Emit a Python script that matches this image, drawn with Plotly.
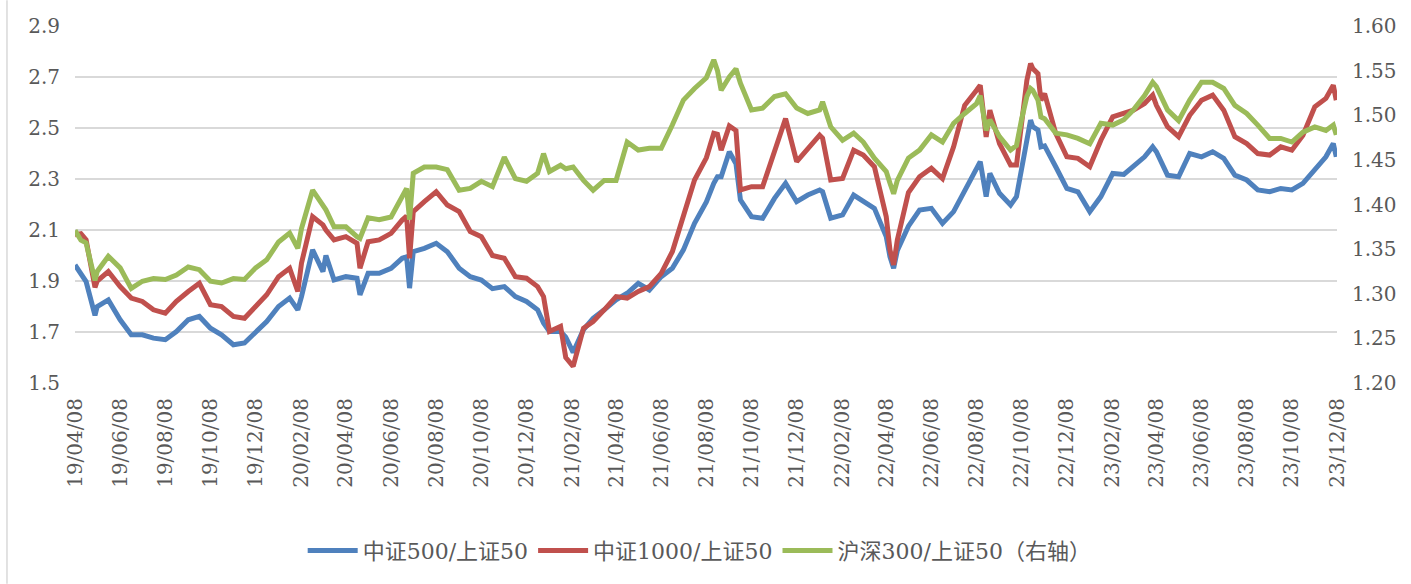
import plotly.graph_objects as go

dates = [
    "2019-04-08", "2019-04-16", "2019-04-23", "2019-05-05", "2019-05-08", "2019-05-23",
    "2019-06-08", "2019-06-23", "2019-07-08", "2019-07-23", "2019-08-08", "2019-08-23",
    "2019-09-08", "2019-09-23", "2019-10-08", "2019-10-23", "2019-11-08", "2019-11-23",
    "2019-12-08", "2019-12-23", "2020-01-08", "2020-01-23", "2020-02-03", "2020-02-08",
    "2020-02-23", "2020-03-08", "2020-03-12", "2020-03-23", "2020-04-08", "2020-04-23",
    "2020-04-27", "2020-05-08", "2020-05-23", "2020-06-08", "2020-06-23", "2020-06-29",
    "2020-07-03", "2020-07-08", "2020-07-23", "2020-08-08", "2020-08-23", "2020-09-08",
    "2020-09-23", "2020-10-08", "2020-10-23", "2020-11-08", "2020-11-23", "2020-12-08",
    "2020-12-23", "2020-12-31", "2021-01-08", "2021-01-23", "2021-01-30", "2021-02-09",
    "2021-02-23", "2021-03-08", "2021-03-23", "2021-04-08", "2021-04-23", "2021-05-08",
    "2021-05-23", "2021-06-08", "2021-06-23", "2021-07-08", "2021-07-23", "2021-08-08",
    "2021-08-18", "2021-08-23", "2021-08-28", "2021-09-08", "2021-09-17", "2021-09-23",
    "2021-10-08", "2021-10-23", "2021-11-08", "2021-11-23", "2021-12-08", "2021-12-23",
    "2022-01-08", "2022-01-12", "2022-01-23", "2022-02-08", "2022-02-23", "2022-03-08",
    "2022-03-23", "2022-04-08", "2022-04-13", "2022-04-18", "2022-04-23", "2022-05-08",
    "2022-05-23", "2022-06-08", "2022-06-23", "2022-07-08", "2022-07-23", "2022-08-08",
    "2022-08-13", "2022-08-21", "2022-08-26", "2022-09-08", "2022-09-23", "2022-10-01",
    "2022-10-08", "2022-10-15", "2022-10-20", "2022-10-23", "2022-10-30", "2022-11-03",
    "2022-11-08", "2022-11-23", "2022-12-08", "2022-12-23", "2023-01-08", "2023-01-23",
    "2023-02-08", "2023-02-23", "2023-03-08", "2023-03-23", "2023-04-03", "2023-04-08",
    "2023-04-23", "2023-05-08", "2023-05-23", "2023-06-08", "2023-06-23", "2023-07-08",
    "2023-07-23", "2023-08-08", "2023-08-23", "2023-09-08", "2023-09-23", "2023-10-08",
    "2023-10-23", "2023-11-08", "2023-11-23", "2023-12-03", "2023-12-07",
]

csi500_sse50 = [
    1.963, 1.925, 1.898, 1.765, 1.800, 1.826,
    1.748, 1.689, 1.689, 1.676, 1.670, 1.702,
    1.748, 1.761, 1.715, 1.689, 1.650, 1.657,
    1.702, 1.741, 1.800, 1.833, 1.787, 1.839,
    2.022, 1.937, 2.000, 1.904, 1.917, 1.911,
    1.846, 1.930, 1.930, 1.950, 1.989, 1.995,
    1.872, 2.015, 2.028, 2.048, 2.015, 1.950,
    1.917, 1.904, 1.870, 1.878, 1.839, 1.820,
    1.787, 1.735, 1.702, 1.702, 1.680, 1.620,
    1.709, 1.754, 1.787, 1.826, 1.852, 1.891,
    1.865, 1.917, 1.950, 2.022, 2.126, 2.210,
    2.283, 2.309, 2.309, 2.407, 2.360, 2.218,
    2.152, 2.146, 2.224, 2.283, 2.211, 2.237,
    2.257, 2.250, 2.146, 2.159, 2.237, 2.211,
    2.185, 2.074, 1.996, 1.950, 2.020, 2.115,
    2.178, 2.185, 2.126, 2.172, 2.257, 2.342,
    2.368, 2.231, 2.322, 2.244, 2.198, 2.231,
    2.348, 2.452, 2.531, 2.505, 2.492, 2.426,
    2.430, 2.348, 2.263, 2.250, 2.172, 2.231,
    2.322, 2.318, 2.348, 2.387, 2.426, 2.407,
    2.315, 2.309, 2.400, 2.387, 2.407, 2.381,
    2.315, 2.296, 2.257, 2.250, 2.263, 2.257,
    2.283, 2.335, 2.387, 2.439, 2.387,
]

csi1000_sse50 = [
    2.081, 2.085, 2.061, 1.875, 1.900, 1.937,
    1.878, 1.833, 1.820, 1.787, 1.774, 1.820,
    1.859, 1.891, 1.807, 1.800, 1.761, 1.754,
    1.800, 1.846, 1.917, 1.950, 1.859, 1.970,
    2.152, 2.120, 2.100, 2.061, 2.074, 2.048,
    1.950, 2.054, 2.061, 2.087, 2.139, 2.155,
    1.989, 2.172, 2.211, 2.250, 2.198, 2.172,
    2.094, 2.074, 2.000, 1.989, 1.917, 1.911,
    1.878, 1.839, 1.702, 1.722, 1.600, 1.565,
    1.715, 1.741, 1.787, 1.839, 1.833, 1.859,
    1.878, 1.930, 2.015, 2.152, 2.296, 2.383,
    2.479, 2.475, 2.413, 2.508, 2.490, 2.257,
    2.270, 2.270, 2.413, 2.537, 2.368, 2.420,
    2.472, 2.460, 2.296, 2.302, 2.413, 2.394,
    2.348, 2.152, 2.022, 1.963, 2.061, 2.247,
    2.309, 2.342, 2.302, 2.426, 2.589, 2.648,
    2.668, 2.465, 2.570, 2.439, 2.355, 2.355,
    2.531, 2.687, 2.753, 2.733, 2.713, 2.609,
    2.635, 2.479, 2.387, 2.381, 2.348, 2.452,
    2.544, 2.560, 2.570, 2.596, 2.629, 2.589,
    2.505, 2.466, 2.550, 2.609, 2.629, 2.570,
    2.466, 2.439, 2.400, 2.394, 2.426, 2.413,
    2.472, 2.583, 2.616, 2.668, 2.609,
]

hs300_sse50 = [
    1.371, 1.360, 1.357, 1.315, 1.325, 1.342,
    1.329, 1.306, 1.314, 1.317, 1.316, 1.321,
    1.330, 1.327, 1.314, 1.312, 1.317, 1.316,
    1.329, 1.338, 1.358, 1.368, 1.351, 1.373,
    1.416, 1.398, 1.394, 1.375, 1.375, 1.364,
    1.362, 1.385, 1.383, 1.386, 1.409, 1.418,
    1.383, 1.435, 1.442, 1.442, 1.439, 1.416,
    1.418, 1.426, 1.420, 1.453, 1.429, 1.426,
    1.435, 1.457, 1.437, 1.444, 1.440, 1.442,
    1.427, 1.416, 1.427, 1.427, 1.470, 1.461,
    1.463, 1.463, 1.489, 1.517, 1.530, 1.542,
    1.562, 1.550, 1.528, 1.543, 1.552, 1.536,
    1.506, 1.508, 1.521, 1.524, 1.508, 1.502,
    1.506, 1.515, 1.487, 1.472, 1.480, 1.470,
    1.452, 1.437, 1.424, 1.412, 1.427, 1.452,
    1.461, 1.478, 1.470, 1.491, 1.502, 1.513,
    1.522, 1.483, 1.495, 1.476, 1.461, 1.466,
    1.496, 1.521, 1.530, 1.528, 1.517, 1.498,
    1.496, 1.480, 1.478, 1.474, 1.468, 1.491,
    1.489, 1.495, 1.506, 1.522, 1.537, 1.532,
    1.506, 1.494, 1.517, 1.537, 1.537, 1.530,
    1.511, 1.502, 1.489, 1.474, 1.474, 1.470,
    1.481, 1.487, 1.483, 1.489, 1.478,
]

tick_dates = [
    "2019-04-08", "2019-06-08", "2019-08-08", "2019-10-08", "2019-12-08",
    "2020-02-08", "2020-04-08", "2020-06-08", "2020-08-08", "2020-10-08", "2020-12-08",
    "2021-02-08", "2021-04-08", "2021-06-08", "2021-08-08", "2021-10-08", "2021-12-08",
    "2022-02-08", "2022-04-08", "2022-06-08", "2022-08-08", "2022-10-08", "2022-12-08",
    "2023-02-08", "2023-04-08", "2023-06-08", "2023-08-08", "2023-10-08", "2023-12-08",
]
tick_text = [d[2:4] + "/" + d[5:7] + "/" + d[8:10] for d in tick_dates]

names = ["中证500/上证50", "中证1000/上证50", "沪深300/上证50（右轴）"]
colors = ["#4F81BD", "#C0504D", "#9BBB59"]

FONT = "DejaVu Serif, Noto Sans CJK SC, serif"
TXT = "#595959"
GRID = "#D9D9D9"

fig = go.Figure()
fig.add_trace(go.Scatter(x=dates, y=csi500_sse50, name=names[0], mode="lines",
                         line=dict(color=colors[0], width=5)))
fig.add_trace(go.Scatter(x=dates, y=csi1000_sse50, name=names[1], mode="lines",
                         line=dict(color=colors[1], width=5)))
fig.add_trace(go.Scatter(x=dates, y=hs300_sse50, name=names[2], mode="lines",
                         line=dict(color=colors[2], width=5), yaxis="y2"))

fig.update_layout(
    width=1411, height=584,
    margin=dict(l=75, r=74, t=26, b=201),
    paper_bgcolor="white", plot_bgcolor="white",
    font=dict(family=FONT, size=20, color=TXT),
    showlegend=True,
    legend=dict(orientation="h", x=0.495, xanchor="center", y=-0.47, yanchor="middle",
                font=dict(family=FONT, size=22, color=TXT), bgcolor="rgba(0,0,0,0)",
                itemwidth=50),
    xaxis=dict(type="date", range=["2019-04-08", "2023-12-08"],
               tickmode="array", tickvals=tick_dates, ticktext=tick_text,
               tickangle=-90, showgrid=False, zeroline=False, showline=False,
               ticks="", ticklabelstandoff=10,
               tickfont=dict(family=FONT, size=20, color=TXT)),
    yaxis=dict(range=[1.5, 2.9], dtick=0.2, tick0=1.5, tickformat=".1f",
               showgrid=True, gridcolor=GRID, gridwidth=1.5, zeroline=False,
               showline=False, ticks="", ticklabelstandoff=14,
               tickfont=dict(family=FONT, size=20, color=TXT)),
    yaxis2=dict(range=[1.20, 1.60], dtick=0.05, tick0=1.2, tickformat=".2f",
                overlaying="y", side="right", showgrid=False, zeroline=False,
                showline=False, ticks="", ticklabelstandoff=14,
                tickfont=dict(family=FONT, size=20, color=TXT)),
)

# chart frame edge on the left
fig.add_shape(type="line", xref="paper", yref="paper",
              x0=-0.0539, x1=-0.0539, y0=-0.5626, y1=1.072,
              line=dict(color=GRID, width=1.5))

fig.write_html("out.html",
               config={"displayModeBar": False},
               post_script="document.body.style.margin='0';document.body.style.overflow='hidden';")
